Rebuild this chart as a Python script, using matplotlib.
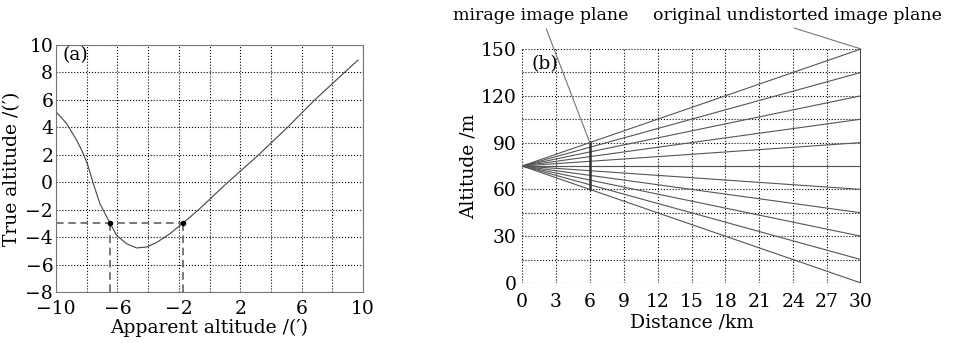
import numpy as np
import matplotlib.pyplot as plt

plt.rcParams['font.family'] = ['DejaVu Serif']
plt.rcParams['axes.unicode_minus'] = True

# panel (a): true vs apparent altitude (arcmin)
apparent = [-10, -9.31, -8.66, -8.33, -7.96, -7.57, -7.14, -6.49, -6.05, -5.4, -4.75, -4.1,
            -3.45, -2.58, -1.71, -0.63, 1.1, 3.06, 5.01, 6.85, 8.26, 9.67]
true_alt = [5.13, 4.28, 3.07, 2.34, 1.36, -0.1, -1.56, -2.97, -3.87, -4.48, -4.79, -4.72,
            -4.4, -3.75, -2.97, -1.92, -0.1, 1.85, 3.92, 5.99, 7.45, 8.9]
mark_x = [-6.49, -1.71]
mark_y = -2.97

# panel (b): rays from observer to the original image plane
observer = (0, 75)
mirage_dist = 6
plane_dist = 30
plane_heights = [0, 15, 30, 45, 60, 75, 90, 105, 120, 135, 150]

fig = plt.figure(figsize=(9.57, 3.43), dpi=100)
ax1 = fig.add_axes([56/957, 1 - 292/343, 307/957, 247/343])
ax2 = fig.add_axes([522/957, 1 - 283/343, 339/957, 234/343])

fs = 13.5

# ---- (a)
ax1.plot(apparent, true_alt, color='#444444', lw=0.8)
ax1.plot([-10, mark_x[1]], [mark_y, mark_y], color='#555555', lw=1.1, ls=(0, (5, 3)))
for mx in mark_x:
    ax1.plot([mx, mx], [-8, mark_y], color='#555555', lw=1.1, ls=(0, (5, 3)))
ax1.plot(mark_x, [mark_y, mark_y], 'o', color='black', ms=3)
ax1.set_xlim(-10, 10)
ax1.set_ylim(-8, 10)
ax1.set_xticks(np.arange(-10, 11, 2))
ax1.set_xticklabels(['−10', '', '−6', '', '−2', '', '2', '', '6', '', '10'])
ax1.set_yticks(np.arange(-8, 11, 2))
ax1.grid(True, color='black', ls=':', lw=0.8)
ax1.tick_params(direction='in', length=0, labelsize=fs)
ax1.tick_params(axis='x', pad=6)
ax1.tick_params(axis='y', pad=2)
ax1.set_xlabel("Apparent altitude /(′)", fontsize=fs, labelpad=0)
ax1.set_ylabel("True altitude /(′)", fontsize=fs, labelpad=3)
ax1.text(-9.6, 8.9, '(a)', fontsize=fs)
for sp in ax1.spines.values():
    sp.set_color('#777777')

# ---- (b)
for h in plane_heights:
    ax2.plot([observer[0], plane_dist], [observer[1], h], color='#555555', lw=0.8)
mir_lo = observer[1] + (plane_heights[0] - observer[1]) * mirage_dist / plane_dist
mir_hi = observer[1] + (plane_heights[-1] - observer[1]) * mirage_dist / plane_dist
ax2.plot([mirage_dist, mirage_dist], [mir_lo, mir_hi], color='#333333', lw=1.8)
ax2.plot([plane_dist, plane_dist], [plane_heights[0], plane_heights[-1]], color='#333333', lw=2)
ax2.set_xlim(0, 30)
ax2.set_ylim(0, 150)
ax2.set_xticks(np.arange(0, 31, 3))
ax2.set_yticks(np.arange(0, 151, 15))
ax2.set_yticklabels(['0', '', '30', '', '60', '', '90', '', '120', '', '150'])
ax2.grid(True, color='black', ls=':', lw=0.8)
ax2.tick_params(length=0, labelsize=fs)
ax2.tick_params(axis='x', pad=7)
ax2.tick_params(axis='y', pad=4)
for sp in ax2.spines.values():
    sp.set_visible(False)
ax2.set_xlabel("Distance /km", fontsize=fs, labelpad=2)
ax2.set_ylabel("Altitude /m", fontsize=fs, labelpad=2)
ax2.text(0.8, 137, '(b)', fontsize=fs)

afs = 12.5
ax2.annotate('mirage image plane', xy=(mirage_dist, mir_hi), xytext=(453/957, 1 - 15/343),
             textcoords='figure fraction', fontsize=afs, va='center', ha='left',
             arrowprops=dict(arrowstyle='-', color='#777777', lw=0.8,
                             relpos=(0.52, 0.0), shrinkA=2, shrinkB=0))
ax2.annotate('original undistorted image plane', xy=(plane_dist, plane_heights[-1]),
             xytext=(653/957, 1 - 16/343), textcoords='figure fraction',
             fontsize=afs, va='center', ha='left',
             arrowprops=dict(arrowstyle='-', color='#777777', lw=0.8,
                             relpos=(0.45, 0.0), shrinkA=2, shrinkB=0))

fig.savefig('out.png', dpi=100)
